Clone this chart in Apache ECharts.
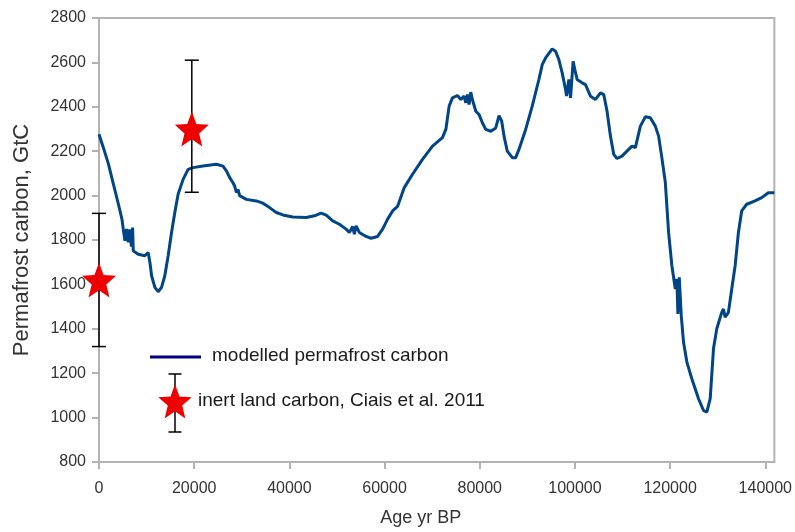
<!DOCTYPE html>
<html>
<head>
<meta charset="utf-8">
<script src="https://cdn.jsdelivr.net/npm/echarts@6/dist/echarts.min.js"></script>
<style>
html,body{margin:0;padding:0;background:#fff;}
#chart{width:795px;height:532px;}
</style>
</head>
<body>
<div id="chart"></div>
<script>
// ---- Data ----
const ageYrBP = [0, 900, 1950, 2930, 3980, 4820, 5100, 5450, 5800, 6150, 6500, 6800, 7060, 7200, 7600, 8240, 9640, 10330, 10700, 11050, 11740, 12430, 13140, 13830, 14530, 15240, 15930, 16620, 17670, 18720, 19770, 21860, 24670, 26050, 26770, 27460, 28150, 28510, 28860, 29200, 29550, 29910, 30960, 33050, 34440, 35840, 37250, 38630, 40730, 43530, 45270, 46680, 47730, 49110, 50510, 51920, 52610, 53300, 53660, 54010, 54700, 56110, 57160, 58540, 59590, 60640, 61690, 62730, 64140, 65880, 67970, 70070, 72170, 72880, 73570, 74260, 75310, 76020, 76710, 77070, 77410, 77760, 78120, 78450, 79170, 79860, 80550, 81260, 82310, 83360, 84050, 84620, 85100, 85790, 86840, 87550, 88240, 89650, 91030, 92430, 93130, 93840, 95220, 95930, 96620, 97320, 98030, 98240, 98720, 99080, 99410, 99620, 99980, 100460, 101510, 102220, 103270, 104320, 105370, 106060, 106750, 107460, 108150, 108850, 109890, 111300, 111990, 112700, 113750, 114800, 115840, 116890, 117580, 118270, 118990, 119680, 120370, 120730, 121090, 121420, 121630, 121920, 122340, 122820, 123520, 124560, 125970, 127020, 127710, 128420, 129110, 129800, 130850, 131200, 131560, 132250, 132950, 133660, 134350, 135040, 136090, 137850, 139240, 140640, 141900];
const permafrostC = [2276, 2217, 2145, 2060, 1970, 1894, 1849, 1796, 1850, 1790, 1848, 1770, 1856, 1751, 1760, 1736, 1729, 1744, 1699, 1639, 1587, 1567, 1587, 1639, 1729, 1834, 1924, 2006, 2073, 2118, 2126, 2133, 2141, 2133, 2111, 2081, 2058, 2043, 2014, 2028, 2000, 1991, 1983, 1976, 1966, 1946, 1924, 1913, 1904, 1901, 1909, 1921, 1912, 1886, 1871, 1849, 1834, 1861, 1826, 1864, 1834, 1816, 1808, 1816, 1849, 1894, 1931, 1951, 2036, 2096, 2163, 2223, 2261, 2298, 2403, 2440, 2451, 2433, 2448, 2418, 2455, 2410, 2466, 2433, 2380, 2365, 2328, 2298, 2290, 2305, 2360, 2335, 2268, 2200, 2171, 2171, 2208, 2298, 2403, 2523, 2590, 2620, 2661, 2650, 2613, 2553, 2478, 2448, 2523, 2440, 2448, 2605, 2568, 2523, 2508, 2500, 2448, 2433, 2463, 2455, 2380, 2268, 2186, 2167, 2178, 2208, 2223, 2216, 2313, 2355, 2351, 2313, 2268, 2170, 2060, 1834, 1684, 1691, 1579, 1624, 1467, 1632, 1459, 1339, 1250, 1175, 1085, 1032, 1025, 1085, 1310, 1400, 1474, 1489, 1452, 1474, 1579, 1684, 1834, 1931, 1961, 1976, 1991, 2013, 2013];

const ciaisAge = [0, 19500];
const ciaisCarbon = [1620, 2300];
const ciaisLow = [1320, 2015];
const ciaisHigh = [1920, 2610];

const xTickValues = [0, 20000, 40000, 60000, 80000, 100000, 120000, 140000];
const seriesNames = ['modelled permafrost carbon', 'inert land carbon, Ciais et al. 2011'];

// ---- Build ----
const lineData = ageYrBP.map((a, i) => [a, permafrostC[i]]);
const starData = ciaisAge.map((a, i) => [a, ciaisCarbon[i]]);
const errData = ciaisAge.map((a, i) => [a, ciaisLow[i], ciaisHigh[i]]);

function starPoints(cx, cy, R, sy) {
  const pts = [];
  const r = R * 0.43;
  for (let k = 0; k < 10; k++) {
    const ang = (-90 + k * 36) * Math.PI / 180;
    const rad = k % 2 === 0 ? R : r;
    pts.push([cx + rad * Math.cos(ang), cy + rad * Math.sin(ang) * sy]);
  }
  return pts;
}
const sp = starPoints(50, 50, 50, 1);
const starPath = 'path://M' + sp.map(p => p[0].toFixed(2) + ',' + p[1].toFixed(2)).join('L') + 'Z';

const STAR_COLOR = '#ee0000';
const AXIS_GRAY = '#b3b3b3';
const FONT = 'Liberation Sans, Arial, sans-serif';
const plainNum = v => String(v);

const chart = echarts.init(document.getElementById('chart'), null, {renderer: 'canvas'});

const legendStar = starPoints(175, 403, 17.6, 1.08);

chart.setOption({
  animation: false,
  backgroundColor: '#fff',
  grid: {left: 99, right: 19, top: 18, bottom: 69, show: true, borderColor: AXIS_GRAY, borderWidth: 2, containLabel: false},
  xAxis: {
    type: 'value', min: 0, max: 141900, interval: 20000,
    name: 'Age yr BP', nameLocation: 'middle', nameGap: 47,
    nameTextStyle: {fontFamily: FONT, fontSize: 18, color: '#333', padding: [0, 32, 0, 0]},
    axisLine: {show: true, lineStyle: {color: AXIS_GRAY, width: 2}},
    axisTick: {show: true, length: 7, lineStyle: {color: AXIS_GRAY, width: 2}, customValues: xTickValues},
    axisLabel: {fontFamily: FONT, fontSize: 16, color: '#333', margin: 19, customValues: xTickValues, formatter: plainNum},
    splitLine: {show: false}
  },
  yAxis: {
    type: 'value', min: 800, max: 2800, interval: 200,
    name: 'Permafrost carbon, GtC', nameLocation: 'middle', nameGap: 66, nameRotate: 90,
    nameTextStyle: {fontFamily: FONT, fontSize: 22, color: '#333'},
    axisLine: {show: true, lineStyle: {color: AXIS_GRAY, width: 2}},
    axisTick: {show: true, length: 7, lineStyle: {color: AXIS_GRAY, width: 2}},
    axisLabel: {fontFamily: FONT, fontSize: 16, color: '#333', margin: 13, formatter: plainNum},
    splitLine: {show: false}
  },
  series: [
    {
      name: seriesNames[0], type: 'line', data: lineData, showSymbol: false, z: 2,
      lineStyle: {color: '#004586', width: 3}, itemStyle: {color: '#004586'}
    },
    {
      name: seriesNames[1] + ' error', type: 'custom', data: errData, z: 3, clip: false,
      encode: {x: 0, y: [1, 2]},
      renderItem: function (params, api) {
        const x = api.value(0);
        const pLo = api.coord([x, api.value(1)]);
        const pHi = api.coord([x, api.value(2)]);
        const hw = 7;
        const st = {stroke: '#000', lineWidth: 1.5};
        return {type: 'group', children: [
          {type: 'line', shape: {x1: pLo[0], y1: pLo[1], x2: pHi[0], y2: pHi[1]}, style: st},
          {type: 'line', shape: {x1: pLo[0] - hw, y1: pLo[1], x2: pLo[0] + hw, y2: pLo[1]}, style: st},
          {type: 'line', shape: {x1: pHi[0] - hw, y1: pHi[1], x2: pHi[0] + hw, y2: pHi[1]}, style: st}
        ]};
      }
    },
    {
      name: seriesNames[1], type: 'scatter', data: starData, z: 4, clip: false,
      symbol: starPath, symbolSize: [34, 35],
      itemStyle: {color: STAR_COLOR, opacity: 1}
    }
  ],
  graphic: [
    {type: 'line', shape: {x1: 150, y1: 357, x2: 201, y2: 357}, style: {stroke: '#000080', lineWidth: 3}, z: 10},
    {type: 'text', x: 212, y: 356, style: {text: seriesNames[0], font: '19px ' + FONT, fill: '#1a1a1a', verticalAlign: 'middle'}, z: 10},
    {type: 'line', shape: {x1: 175, y1: 374, x2: 175, y2: 432}, style: {stroke: '#000', lineWidth: 1.5}, z: 10},
    {type: 'line', shape: {x1: 168.5, y1: 374, x2: 181.5, y2: 374}, style: {stroke: '#000', lineWidth: 1.5}, z: 10},
    {type: 'line', shape: {x1: 168.5, y1: 432, x2: 181.5, y2: 432}, style: {stroke: '#000', lineWidth: 1.5}, z: 10},
    {type: 'polygon', shape: {points: legendStar}, style: {fill: STAR_COLOR}, z: 11},
    {type: 'text', x: 198, y: 401, style: {text: seriesNames[1], font: '19px ' + FONT, fill: '#1a1a1a', verticalAlign: 'middle'}, z: 10}
  ]
});
</script>
</body>
</html>
